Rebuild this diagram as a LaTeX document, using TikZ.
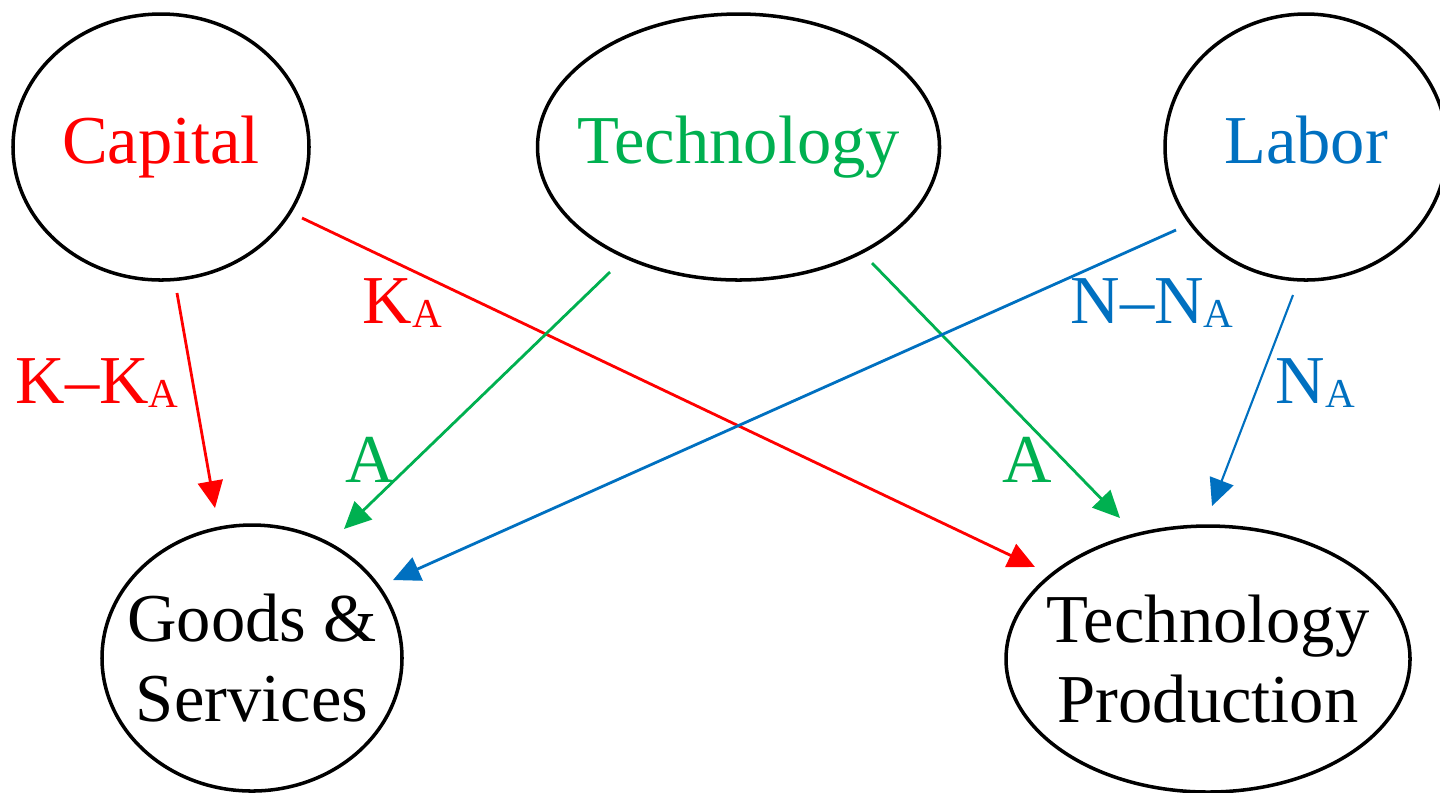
\documentclass[tikz,border=0pt]{standalone}
\usepackage{fontspec}
\setmainfont{Liberation Serif}
\usepackage{xcolor}
\usetikzlibrary{shapes.geometric, arrows.meta, positioning}

\definecolor{capred}{HTML}{FF0000}
\definecolor{techgreen}{HTML}{00B050}
\definecolor{laborblue}{HTML}{0070C0}
\newcommand{\subA}{\raisebox{-1.4pt}{\fontsize{11.7pt}{12pt}\selectfont A}}

\begin{document}
\begin{tikzpicture}[
    x=0.1mm, y=-0.1mm,
    oval/.style={ellipse, draw, line width=1pt, minimum height=26.6mm, inner xsep=-4mm, inner ysep=0pt, align=center, font=\fontsize{19.5pt}{22.8pt}\selectfont},
    arrow/.style={-{Triangle[length=2.7mm, width=2.5mm]}, line width=0.8pt},
    lbl/.style={inner sep=0pt, anchor=base west, font=\fontsize{19.5pt}{22.8pt}\selectfont}
]
\useasboundingbox (0,0) rectangle (1440,792);

% Inputs - top row
\node[oval, minimum width=29.6mm, text=capred] (cap) at (161,147) {Capital};
\node[oval, minimum width=40.2mm, text=techgreen, right=22.5mm of cap] (tech) {Technology};
\node[oval, minimum width=28.2mm, text=laborblue, text depth=4.3pt, right=22.2mm of tech] (lab) {Labor};

% Outputs - bottom row
\node[oval, minimum width=30mm] (goods) at (252,658) {Goods \&\\Services};
\node[oval, minimum width=40.4mm] (tp) at (1208,659) {Technology\\Production};

% Arrow ends
\coordinate (capA) at (177,293);
\coordinate (capB) at (302,218);
\coordinate (techA) at (610,272);
\coordinate (techB) at (872,263);
\coordinate (labA) at (1176,230);
\coordinate (labB) at (1293,295);
\coordinate (goodsA) at (215,508);
\coordinate (goodsB) at (344,529);
\coordinate (goodsC) at (393,580);
\coordinate (tpA) at (1035,567);
\coordinate (tpB) at (1120,518);
\coordinate (tpC) at (1212,506);

% Arrows
\draw[arrow, capred] (capA) -- (goodsA);
\draw[arrow, capred] (capB) -- (tpA);
\draw[arrow, techgreen] (techA) -- (goodsB);
\draw[arrow, techgreen] (techB) -- (tpB);
\draw[arrow, laborblue] (labA) -- (goodsC);
\draw[arrow, laborblue, line width=0.6pt] (labB) -- (tpC);

% Labels
\node[lbl, text=capred] (kk) at (15,403) {K--K\subA};
\node[lbl, text=capred] (ka) at (362,323) {K\subA};
\node[lbl, text=techgreen] (al) at (345,482) {A};
\node[lbl, text=techgreen] (ar) at (1002,482) {A};
\node[lbl, text=laborblue] (nn) at (1070,323) {N--N\subA};
\node[lbl, text=laborblue] (na) at (1275,403) {N\subA};

\end{tikzpicture}
\end{document}
